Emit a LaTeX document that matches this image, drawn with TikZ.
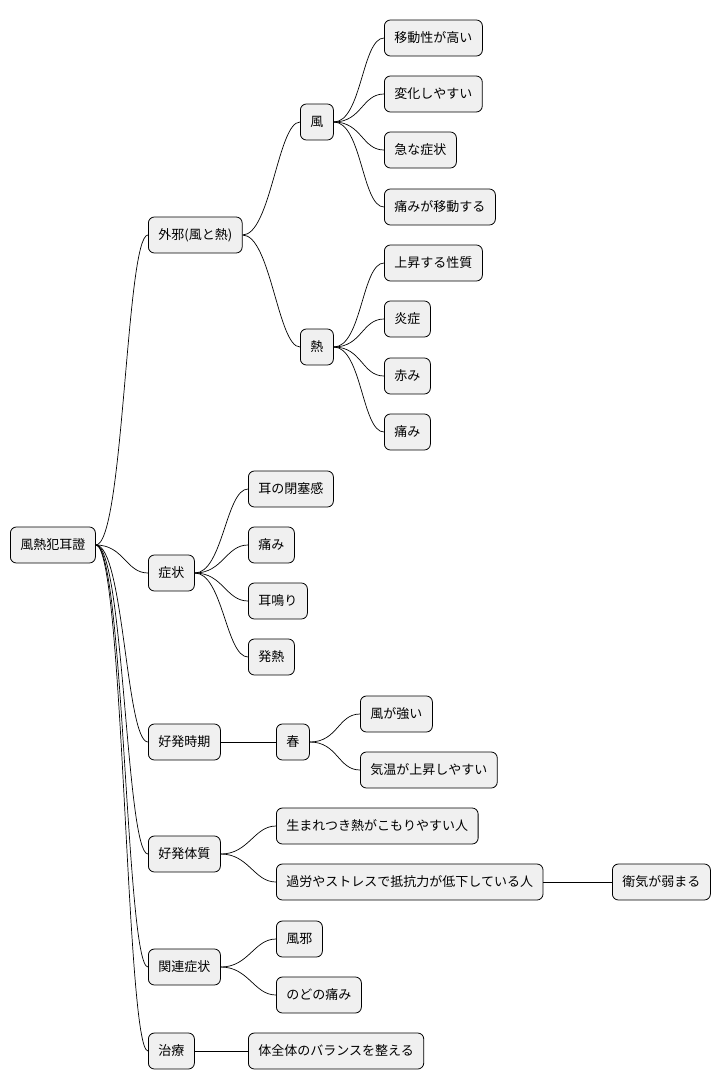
\documentclass[tikz,border=0pt]{standalone}
\usepackage{fontspec}
\setmainfont{Noto Sans CJK JP}
\tikzset{
  topic/.style={draw=black, fill=black!6, rounded corners=6pt, line width=0.8pt,
    minimum height=36pt, inner xsep=10pt, anchor=west,
    font=\fontsize{13}{15}\selectfont},
  link/.style={line width=0.7pt}
}
\begin{document}
\begin{tikzpicture}[x=1pt,y=-1pt]
\useasboundingbox (0,0) rectangle (726,1090);
% root and first level
\node[topic] (root) at (10,545) {風熱犯耳證};
\node[topic] (gaija) at (148,235) {外邪(風と熱)};
\node[topic] (shojo) at (148,573) {症状};
\node[topic] (jiki) at (148,742) {好発時期};
\node[topic] (taishitsu) at (148,854) {好発体質};
\node[topic] (kanren) at (148,967) {関連症状};
\node[topic] (chiryo) at (148,1051) {治療};
% wind and heat
\node[topic] (kaze) at (300,122) {風};
\node[topic] (netsu) at (300,347) {熱};
\foreach \n/\y/\t in {k1/38/移動性が高い, k2/94/変化しやすい, k3/150/急な症状, k4/207/痛みが移動する}
  \node[topic] (\n) at (384,\y) {\t};
\foreach \n/\y/\t in {n1/263/上昇する性質, n2/319/炎症, n3/376/赤み, n4/432/痛み}
  \node[topic] (\n) at (384,\y) {\t};
% symptoms
\foreach \n/\y/\t in {s1/489/耳の閉塞感, s2/545/痛み, s3/601/耳鳴り, s4/657/発熱}
  \node[topic] (\n) at (248,\y) {\t};
% season
\node[topic] (haru) at (276,742) {春};
\node[topic] (h1) at (360,714) {風が強い};
\node[topic] (h2) at (360,770) {気温が上昇しやすい};
% constitution
\node[topic] (t1) at (276,826) {生まれつき熱がこもりやすい人};
\node[topic] (t2) at (276,882) {過労やストレスで抵抗力が低下している人};
\node[topic] (t3) at (612,882) {衛気が弱まる};
% related
\node[topic] (r1) at (276,939) {風邪};
\node[topic] (r2) at (276,995) {のどの痛み};
% treatment
\node[topic] (c1) at (248,1051) {体全体のバランスを整える};
% connectors
\foreach \a/\b in {root/gaija, root/shojo, root/jiki, root/taishitsu, root/kanren, root/chiryo,
  gaija/kaze, gaija/netsu, kaze/k1, kaze/k2, kaze/k3, kaze/k4, netsu/n1, netsu/n2, netsu/n3, netsu/n4,
  shojo/s1, shojo/s2, shojo/s3, shojo/s4, jiki/haru, haru/h1, haru/h2,
  taishitsu/t1, taishitsu/t2, t2/t3, kanren/r1, kanren/r2, chiryo/c1}
  \draw[link] (\a.east) .. controls +(28,0) and +(-22,0) .. (\b.west);
\end{tikzpicture}
\end{document}
